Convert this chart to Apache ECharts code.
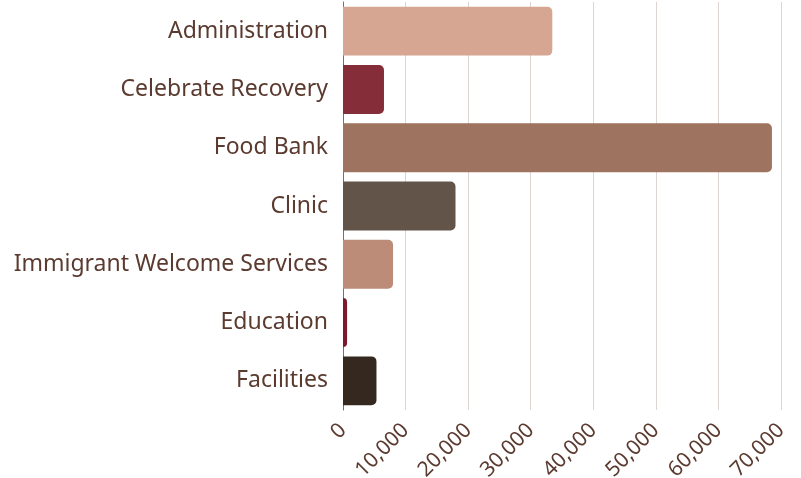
<!DOCTYPE html>
<html>
<head>
<meta charset="utf-8">
<script src="https://cdn.jsdelivr.net/npm/echarts@6/dist/echarts.min.js"></script>
<style>
  html, body { margin: 0; padding: 0; background: #fff; }
  #chart { width: 801px; height: 478px; }
</style>
</head>
<body>
<div id="chart"></div>
<script>
// budget by program, top to bottom as shown
const categories = ['Administration', 'Celebrate Recovery', 'Food Bank', 'Clinic', 'Immigrant Welcome Services', 'Education', 'Facilities'];
const values = [33450, 6550, 68550, 17980, 8000, 650, 5350];
const barColors = ['#d7a693', '#852d38', '#9e7360', '#63544a', '#bd8c78', '#7a1a2c', '#35281f'];

const textColor = '#5b3a2f';
const font = '"Noto Sans", sans-serif';

const chart = echarts.init(document.getElementById('chart'));

chart.setOption({
  animation: false,
  grid: { left: 343, right: 20, top: 2, bottom: 68, outerBoundsMode: 'none' },
  xAxis: {
    type: 'value',
    min: 0,
    max: 70000,
    interval: 10000,
    axisLine: { show: false },
    axisTick: { show: false },
    splitLine: { lineStyle: { color: '#ddd4d1', width: 1 } },
    axisLabel: {
      rotate: 45,
      margin: 17,
      color: textColor,
      fontFamily: font,
      fontSize: 21,
      formatter: v => v.toLocaleString('en-US')
    }
  },
  yAxis: {
    type: 'category',
    inverse: true,
    data: categories,
    axisLine: { show: true, lineStyle: { color: '#7d6e68', width: 1 } },
    axisTick: { show: false },
    axisLabel: {
      margin: 15,
      color: textColor,
      fontFamily: font,
      fontSize: 23
    }
  },
  series: [{
    type: 'bar',
    barCategoryGap: '16%',
    data: values.map((v, i) => ({
      value: v,
      itemStyle: { color: barColors[i], borderRadius: [0, 5, 5, 0] }
    }))
  }]
});
</script>
</body>
</html>
